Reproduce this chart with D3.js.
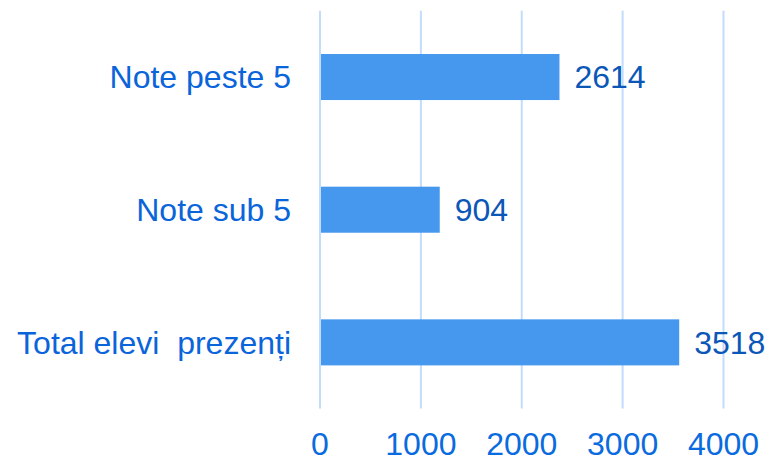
<!DOCTYPE html>
<html lang="ro">
<head>
    <meta charset="UTF-8">
    <title>Note</title>
    <script src="https://d3js.org/d3.v7.min.js"></script>
    <style>
        body { margin: 0; background: #fff; font-family: "Liberation Sans", Arial, sans-serif; }
        svg { display: block; }
        .grid line { stroke: #c2dcfa; stroke-width: 2px; }
        .cat { font-size: 32px; fill: #0a64da; text-anchor: end; }
        .tick-label { font-size: 32px; fill: #0a6be0; text-anchor: middle; }
        .val { font-size: 32px; fill: #0b57b8; }
        .bar { fill: #4598ee; }
    </style>
</head>
<body>
    <svg width="770" height="458"></svg>
    <script>
        // categories, top to bottom
        const categories = ["Note peste 5", "Note sub 5", "Total elevi  prezenți"];
        // bar lengths as they appear on the axis
        const barValues = [2374, 1187, 3561];
        // printed data labels
        const valueLabels = ["2614", "904", "3518"];
        const xTicks = [0, 1000, 2000, 3000, 4000];

        const svg = d3.select("svg");

        const x = d3.scaleLinear().domain([0, 4000]).range([320, 723.5]);
        const y = d3.scaleBand().domain(categories).range([10.7, 408.7]).paddingInner(0.653).paddingOuter(0.3265);

        // vertical gridlines
        svg.append("g").attr("class", "grid")
            .selectAll("line")
            .data(xTicks)
            .enter().append("line")
            .attr("x1", d => x(d)).attr("x2", d => x(d))
            .attr("y1", 10.7).attr("y2", 408.5);

        // bars
        svg.selectAll(".bar")
            .data(categories)
            .enter().append("rect")
            .attr("class", "bar")
            .attr("x", x(0) + 1)
            .attr("y", d => y(d))
            .attr("height", y.bandwidth())
            .attr("width", (d, i) => x(barValues[i]) - x(0) - 1);

        // value labels
        svg.selectAll(".val")
            .data(categories)
            .enter().append("text")
            .attr("class", "val")
            .attr("x", (d, i) => x(barValues[i]) + 15)
            .attr("y", d => y(d) + y.bandwidth() / 2)
            .attr("dy", "0.35em")
            .text((d, i) => valueLabels[i]);

        // category labels
        svg.selectAll(".cat")
            .data(categories)
            .enter().append("text")
            .attr("class", "cat")
            .attr("x", 291)
            .attr("y", d => y(d) + y.bandwidth() / 2)
            .attr("dy", "0.35em")
            .style("white-space", "pre")
            .text(d => d);

        // x tick labels
        svg.selectAll(".tick-label")
            .data(xTicks)
            .enter().append("text")
            .attr("class", "tick-label")
            .attr("x", d => x(d))
            .attr("y", 455)
            .text(d => d);
    </script>
</body>
</html>
